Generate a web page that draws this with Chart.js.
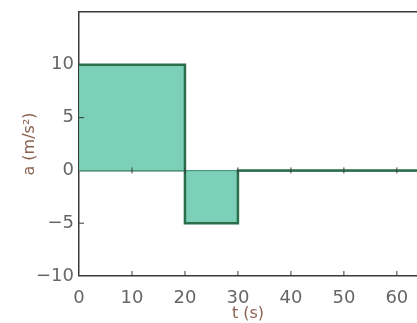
<!DOCTYPE html>
<html>
<head>
<meta charset="utf-8">
<script src="https://cdn.jsdelivr.net/npm/chart.js@4/dist/chart.umd.min.js"></script>
<style>
  html, body { margin: 0; padding: 0; background: #fff; overflow: hidden; }
  #wrap { width: 417px; height: 323px; }
</style>
</head>
<body>
<div id="wrap"><canvas id="accel_chart"></canvas></div>
<script>
// step graph: a(t), each value holds until the next time
var tValues = [0, 20, 30, 64];
var aValues = [10, -5, 0, 0];
var xTicks = [0, 10, 20, 30, 40, 50, 60];
var yTicks = [-10, -5, 0, 5, 10];

var tickFont = { family: "'DejaVu Sans', sans-serif", size: 18 };
var inkColor = "#3a3a3a";

// little inward tick marks like the textbook figure
var innerTicks = {
  id: "innerTicks",
  afterDatasetsDraw: function(chart) {
    var ctx = chart.ctx, x = chart.scales.x, y = chart.scales.y;
    var y0 = y.getPixelForValue(0);
    ctx.save();
    ctx.strokeStyle = inkColor;
    ctx.lineWidth = 1;
    xTicks.forEach(function(v) {
      if (v === 0) return;
      var px = x.getPixelForValue(v);
      ctx.beginPath();
      ctx.moveTo(px, y.bottom);
      ctx.lineTo(px, y.bottom - 5);
      ctx.moveTo(px, y0 - 3);
      ctx.lineTo(px, y0 + 3);
      ctx.stroke();
    });
    [-5, 5].forEach(function(v) {
      var py = y.getPixelForValue(v);
      ctx.beginPath();
      ctx.moveTo(x.left, py);
      ctx.lineTo(x.left + 5, py);
      ctx.stroke();
    });
    ctx.restore();
  }
};

new Chart("accel_chart", {
  type: "line",
  data: {
    datasets: [{
      data: tValues.map(function(t, i) { return { x: t, y: aValues[i] }; }),
      stepped: true,
      borderColor: "#2b6e4c",
      borderWidth: 2.5,
      backgroundColor: "rgba(110, 203, 176, 0.9)",
      fill: "origin",
      pointRadius: 0
    }]
  },
  options: {
    responsive: true,
    maintainAspectRatio: false,
    animation: false,
    layout: { padding: 0 },
    plugins: { legend: { display: false }, tooltip: { enabled: false } },
    scales: {
      x: {
        type: "linear",
        min: 0,
        max: 63.8,
        afterFit: function(s) { s.height = 47; },
        ticks: {
          stepSize: 10,
          includeBounds: false,
          color: "#666",
          font: tickFont,
          padding: 4,
          maxRotation: 0
        },
        grid: { display: false },
        border: { display: true, color: inkColor, width: 1.5 },
        title: {
          display: true,
          text: "t (s)",
          color: "#8a6450",
          font: { family: "'DejaVu Sans', sans-serif", size: 16 },
          padding: { top: -6, bottom: 0 }
        }
      },
      xTop: {
        type: "linear",
        position: "top",
        min: 0,
        max: 63.8,
        afterFit: function(s) { s.height = 12; },
        ticks: { display: false },
        grid: { display: false },
        border: { display: true, color: inkColor, width: 1.5 }
      },
      y: {
        min: -10,
        max: 15,
        afterFit: function(s) { s.width = 79; s.paddingTop = 0; s.paddingBottom = 0; },
        ticks: {
          stepSize: 5,
          color: "#666",
          font: tickFont,
          padding: 5,
          callback: function(v) {
            if (yTicks.indexOf(v) < 0) return "";
            return v < 0 ? "\u2212" + Math.abs(v) : String(v);
          }
        },
        grid: {
          drawTicks: false,
          lineWidth: function(c) { return c.tick && c.tick.value === 0 ? 1.5 : 0; },
          color: "#2b6e4c"
        },
        border: { display: true, color: inkColor, width: 1.5 },
        title: {
          display: true,
          text: "a (m/s\u00b2)",
          color: "#8a6450",
          font: { family: "'DejaVu Sans', sans-serif", size: 16 },
          padding: { top: 20, bottom: 4 }
        }
      }
    }
  },
  plugins: [innerTicks]
});
</script>
</body>
</html>
